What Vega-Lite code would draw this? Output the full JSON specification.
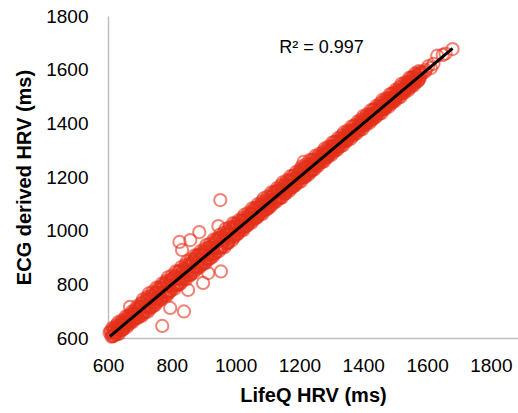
{
"$schema": "https://vega.github.io/schema/vega-lite/v6.json",
"width": 410, "height": 322,
"autosize": {"type": "none"},
"padding": {"left": 108, "top": 16, "right": 0, "bottom": 75},
"background": "white",
"config": {"view": {"stroke": null}},
"encoding": {
 "x": {"field": "x", "type": "quantitative",
  "scale": {"domain": [600, 1885], "nice": false, "zero": false},
  "axis": {"title": "LifeQ HRV (ms)", "values": [600, 800, 1000, 1200, 1400, 1600, 1800], "format": "d", "grid": false, "ticks": false, "tickSize": 0, "labelFlush": false, "labelOverlap": false, "domainColor": "#bfbfbf", "domainWidth": 1.5, "labelFont": "Liberation Sans", "labelFontSize": 19, "labelColor": "#000000", "labelPadding": 18, "titleFont": "Liberation Sans", "titleFontSize": 20, "titleFontWeight": "bold", "titleColor": "#000000", "titlePadding": 10}},
 "y": {"field": "y", "type": "quantitative",
  "scale": {"domain": [600, 1800], "nice": false, "zero": false},
  "axis": {"title": "ECG derived HRV (ms)", "values": [600, 800, 1000, 1200, 1400, 1600, 1800], "format": "d", "grid": false, "ticks": false, "tickSize": 0, "labelFlush": false, "labelOverlap": false, "domainColor": "#bfbfbf", "domainWidth": 1.5, "labelFont": "Liberation Sans", "labelFontSize": 19, "labelColor": "#000000", "labelPadding": 20, "titleFont": "Liberation Sans", "titleFontSize": 20, "titleFontWeight": "bold", "titleColor": "#000000", "titlePadding": 11}}
},
"layer": [
 {"data": {"values": [
{"x":612,"y":620},{"x":616,"y":610},{"x":620,"y":623},{"x":625,"y":621},{"x":630,"y":643},{"x":634,"y":626},{"x":639,"y":640},{"x":644,"y":654},{"x":648,"y":634},{"x":653,"y":659},
{"x":658,"y":655},{"x":662,"y":673},{"x":667,"y":660},{"x":672,"y":672},{"x":676,"y":690},{"x":681,"y":671},{"x":686,"y":690},{"x":690,"y":677},{"x":695,"y":702},{"x":699,"y":698},
{"x":704,"y":718},{"x":709,"y":690},{"x":714,"y":719},{"x":719,"y":712},{"x":724,"y":746},{"x":729,"y":715},{"x":734,"y":736},{"x":739,"y":756},{"x":744,"y":720},{"x":749,"y":759},
{"x":754,"y":749},{"x":759,"y":778},{"x":764,"y":752},{"x":769,"y":769},{"x":774,"y":798},{"x":779,"y":762},{"x":784,"y":791},{"x":789,"y":767},{"x":794,"y":806},{"x":799,"y":797},
{"x":804,"y":822},{"x":809,"y":798},{"x":814,"y":818},{"x":819,"y":799},{"x":824,"y":847},{"x":829,"y":821},{"x":834,"y":847},{"x":839,"y":823},{"x":844,"y":850},{"x":849,"y":848},
{"x":854,"y":871},{"x":859,"y":835},{"x":864,"y":874},{"x":869,"y":864},{"x":874,"y":893},{"x":879,"y":867},{"x":884,"y":884},{"x":889,"y":913},{"x":894,"y":877},{"x":899,"y":906},
{"x":904,"y":882},{"x":909,"y":921},{"x":914,"y":912},{"x":919,"y":937},{"x":924,"y":913},{"x":929,"y":933},{"x":934,"y":914},{"x":939,"y":962},{"x":944,"y":936},{"x":949,"y":962},
{"x":954,"y":938},{"x":959,"y":965},{"x":964,"y":963},{"x":969,"y":983},{"x":974,"y":955},{"x":979,"y":984},{"x":984,"y":977},{"x":989,"y":1011},{"x":994,"y":980},{"x":999,"y":1001},
{"x":1004,"y":1018},{"x":1009,"y":1000},{"x":1014,"y":1014},{"x":1019,"y":1037},{"x":1024,"y":1011},{"x":1029,"y":1034},{"x":1034,"y":1018},{"x":1039,"y":1048},{"x":1044,"y":1042},{"x":1049,"y":1063},
{"x":1054,"y":1046},{"x":1059,"y":1062},{"x":1064,"y":1049},{"x":1069,"y":1086},{"x":1074,"y":1068},{"x":1079,"y":1089},{"x":1084,"y":1072},{"x":1089,"y":1094},{"x":1094,"y":1093},{"x":1099,"y":1110},
{"x":1104,"y":1090},{"x":1109,"y":1113},{"x":1114,"y":1109},{"x":1119,"y":1135},{"x":1124,"y":1113},{"x":1129,"y":1131},{"x":1134,"y":1147},{"x":1139,"y":1121},{"x":1144,"y":1151},{"x":1149,"y":1145},
{"x":1154,"y":1168},{"x":1159,"y":1150},{"x":1164,"y":1164},{"x":1169,"y":1187},{"x":1174,"y":1161},{"x":1179,"y":1184},{"x":1184,"y":1168},{"x":1189,"y":1198},{"x":1194,"y":1192},{"x":1199,"y":1213},
{"x":1204,"y":1196},{"x":1209,"y":1212},{"x":1214,"y":1199},{"x":1219,"y":1236},{"x":1224,"y":1218},{"x":1229,"y":1239},{"x":1234,"y":1222},{"x":1239,"y":1244},{"x":1244,"y":1243},{"x":1249,"y":1260},
{"x":1254,"y":1264},{"x":1259,"y":1252},{"x":1264,"y":1265},{"x":1269,"y":1277},{"x":1274,"y":1263},{"x":1279,"y":1283},{"x":1284,"y":1282},{"x":1289,"y":1298},{"x":1294,"y":1288},{"x":1299,"y":1299},
{"x":1304,"y":1315},{"x":1309,"y":1301},{"x":1314,"y":1317},{"x":1319,"y":1309},{"x":1324,"y":1330},{"x":1329,"y":1328},{"x":1334,"y":1342},{"x":1339,"y":1334},{"x":1344,"y":1346},{"x":1349,"y":1340},
{"x":1354,"y":1364},{"x":1359,"y":1355},{"x":1364,"y":1370},{"x":1369,"y":1362},{"x":1374,"y":1377},{"x":1379,"y":1378},{"x":1384,"y":1391},{"x":1389,"y":1380},{"x":1394,"y":1396},{"x":1399,"y":1396},
{"x":1404,"y":1414},{"x":1409,"y":1402},{"x":1414,"y":1415},{"x":1419,"y":1427},{"x":1424,"y":1413},{"x":1429,"y":1433},{"x":1434,"y":1432},{"x":1439,"y":1448},{"x":1444,"y":1438},{"x":1449,"y":1449},
{"x":1454,"y":1465},{"x":1459,"y":1451},{"x":1464,"y":1467},{"x":1469,"y":1459},{"x":1474,"y":1480},{"x":1479,"y":1478},{"x":1484,"y":1492},{"x":1489,"y":1484},{"x":1494,"y":1496},{"x":1499,"y":1490},
{"x":1504,"y":1514},{"x":1509,"y":1505},{"x":1514,"y":1520},{"x":1519,"y":1512},{"x":1524,"y":1527},{"x":1529,"y":1528},{"x":1534,"y":1541},{"x":1539,"y":1530},{"x":1544,"y":1546},{"x":1549,"y":1546},
{"x":1554,"y":1564},{"x":1559,"y":1552},{"x":1564,"y":1565},{"x":1569,"y":1577},{"x":1574,"y":1563},{"x":1580,"y":1580},{"x":1586,"y":1590},{"x":1593,"y":1591},{"x":1596,"y":1599},{"x":1604,"y":1613},
{"x":1612,"y":1606},{"x":1620,"y":1622},{"x":1632,"y":1652},{"x":1649,"y":1655},{"x":1658,"y":1660},{"x":1680,"y":1677},
{"x":614,"y":608},{"x":619,"y":632},{"x":624,"y":614},{"x":629,"y":633},{"x":634,"y":633},{"x":639,"y":647},{"x":644,"y":631},{"x":649,"y":655},{"x":654,"y":655},{"x":659,"y":651},
{"x":664,"y":675},{"x":669,"y":665},{"x":674,"y":679},{"x":679,"y":668},{"x":684,"y":693},{"x":689,"y":687},{"x":694,"y":708},
{"x":701,"y":691},{"x":706,"y":728},{"x":711,"y":694},{"x":716,"y":723},{"x":721,"y":719},{"x":726,"y":740},{"x":731,"y":708},{"x":736,"y":747},{"x":741,"y":742},{"x":746,"y":733},
{"x":751,"y":770},{"x":756,"y":750},{"x":761,"y":769},{"x":766,"y":748},{"x":771,"y":787},{"x":776,"y":772},{"x":781,"y":805},{"x":786,"y":774},{"x":791,"y":796},{"x":796,"y":776},
{"x":801,"y":814},{"x":806,"y":799},{"x":811,"y":831},{"x":816,"y":800},{"x":821,"y":823},{"x":826,"y":802},{"x":831,"y":841},{"x":836,"y":831},{"x":841,"y":858},{"x":846,"y":846},
{"x":851,"y":845},{"x":856,"y":864},{"x":861,"y":843},{"x":866,"y":882},{"x":871,"y":867},{"x":876,"y":900},{"x":881,"y":869},{"x":886,"y":891},{"x":891,"y":871},{"x":896,"y":909},
{"x":901,"y":894},{"x":906,"y":926},{"x":911,"y":895},{"x":916,"y":918},{"x":921,"y":897},{"x":926,"y":936},{"x":931,"y":926},{"x":936,"y":953},{"x":941,"y":941},{"x":946,"y":936},
{"x":951,"y":973},{"x":956,"y":939},{"x":961,"y":968},{"x":966,"y":964},{"x":971,"y":985},{"x":976,"y":953},{"x":981,"y":992},{"x":986,"y":987},{"x":991,"y":978},{"x":996,"y":1015},
{"x":1001,"y":1012},{"x":1006,"y":989},{"x":1011,"y":1019},{"x":1016,"y":1017},{"x":1021,"y":1011},{"x":1026,"y":1040},{"x":1031,"y":1026},{"x":1036,"y":1042},{"x":1041,"y":1027},{"x":1046,"y":1058},
{"x":1051,"y":1048},{"x":1056,"y":1074},{"x":1061,"y":1052},{"x":1066,"y":1070},{"x":1071,"y":1056},{"x":1076,"y":1086},{"x":1081,"y":1076},{"x":1086,"y":1101},{"x":1091,"y":1079},{"x":1096,"y":1098},
{"x":1101,"y":1083},{"x":1106,"y":1113},{"x":1111,"y":1107},{"x":1116,"y":1129},{"x":1121,"y":1121},{"x":1126,"y":1119},{"x":1131,"y":1147},{"x":1136,"y":1123},{"x":1141,"y":1146},{"x":1146,"y":1144},
{"x":1151,"y":1162},{"x":1156,"y":1139},{"x":1161,"y":1169},{"x":1166,"y":1167},{"x":1171,"y":1161},{"x":1176,"y":1190},{"x":1181,"y":1176},{"x":1186,"y":1192},{"x":1191,"y":1177},{"x":1196,"y":1208},
{"x":1201,"y":1198},{"x":1206,"y":1224},{"x":1211,"y":1202},{"x":1216,"y":1220},{"x":1221,"y":1206},{"x":1226,"y":1236},{"x":1231,"y":1226},{"x":1236,"y":1251},{"x":1241,"y":1229},{"x":1246,"y":1248},
{"x":1251,"y":1245},{"x":1256,"y":1258},{"x":1261,"y":1252},{"x":1266,"y":1272},{"x":1271,"y":1268},{"x":1276,"y":1285},{"x":1281,"y":1274},{"x":1286,"y":1287},{"x":1291,"y":1280},{"x":1296,"y":1300},
{"x":1301,"y":1299},{"x":1306,"y":1314},{"x":1311,"y":1311},{"x":1316,"y":1312},{"x":1321,"y":1331},{"x":1326,"y":1318},{"x":1331,"y":1334},{"x":1336,"y":1335},{"x":1341,"y":1348},{"x":1346,"y":1336},
{"x":1351,"y":1356},{"x":1356,"y":1357},{"x":1361,"y":1355},{"x":1366,"y":1375},{"x":1371,"y":1368},{"x":1376,"y":1380},{"x":1381,"y":1373},{"x":1386,"y":1393},{"x":1391,"y":1389},{"x":1396,"y":1407},
{"x":1401,"y":1395},{"x":1406,"y":1408},{"x":1411,"y":1402},{"x":1416,"y":1422},{"x":1421,"y":1418},{"x":1426,"y":1435},{"x":1431,"y":1424},{"x":1436,"y":1437},{"x":1441,"y":1430},{"x":1446,"y":1450},
{"x":1451,"y":1449},{"x":1456,"y":1464},{"x":1461,"y":1461},{"x":1466,"y":1462},{"x":1471,"y":1481},{"x":1476,"y":1468},{"x":1481,"y":1484},{"x":1486,"y":1485},{"x":1491,"y":1498},{"x":1496,"y":1486},
{"x":1501,"y":1506},{"x":1506,"y":1507},{"x":1511,"y":1505},{"x":1516,"y":1525},{"x":1521,"y":1518},{"x":1526,"y":1530},{"x":1531,"y":1523},{"x":1536,"y":1543},{"x":1541,"y":1539},{"x":1546,"y":1557},
{"x":1551,"y":1545},{"x":1556,"y":1558},{"x":1561,"y":1552},{"x":1566,"y":1572},{"x":1571,"y":1568},{"x":1576,"y":1585},
{"x":608,"y":626},{"x":614,"y":638},{"x":620,"y":635},{"x":626,"y":647},{"x":632,"y":659},{"x":638,"y":655},{"x":644,"y":666},{"x":650,"y":664},{"x":656,"y":681},{"x":662,"y":682},
{"x":668,"y":686},{"x":674,"y":698},{"x":680,"y":695},{"x":686,"y":707},{"x":692,"y":719},{"x":698,"y":715},
{"x":704,"y":730},{"x":710,"y":744},{"x":716,"y":738},{"x":722,"y":752},{"x":728,"y":766},{"x":734,"y":758},{"x":740,"y":772},{"x":746,"y":766},{"x":752,"y":788},{"x":758,"y":786},
{"x":764,"y":790},{"x":770,"y":804},{"x":776,"y":798},{"x":782,"y":812},{"x":788,"y":826},{"x":794,"y":818},{"x":800,"y":832},{"x":806,"y":826},{"x":812,"y":848},{"x":818,"y":846},
{"x":824,"y":850},{"x":830,"y":864},{"x":836,"y":858},{"x":842,"y":872},{"x":848,"y":886},{"x":854,"y":878},{"x":860,"y":892},{"x":866,"y":886},{"x":872,"y":908},{"x":878,"y":906},
{"x":884,"y":910},{"x":890,"y":924},{"x":896,"y":918},{"x":902,"y":932},{"x":908,"y":946},{"x":914,"y":938},{"x":920,"y":952},{"x":926,"y":946},{"x":932,"y":968},{"x":938,"y":966},
{"x":944,"y":970},{"x":950,"y":984},{"x":956,"y":978},{"x":962,"y":992},{"x":968,"y":1006},{"x":974,"y":998},{"x":980,"y":1012},{"x":986,"y":1006},{"x":992,"y":1028},{"x":998,"y":1026},
{"x":1004,"y":1026},{"x":1010,"y":1039},{"x":1016,"y":1035},{"x":1022,"y":1048},{"x":1028,"y":1060},{"x":1034,"y":1054},{"x":1040,"y":1067},{"x":1046,"y":1063},{"x":1052,"y":1083},{"x":1058,"y":1082},
{"x":1064,"y":1086},{"x":1070,"y":1099},{"x":1076,"y":1095},{"x":1082,"y":1108},{"x":1088,"y":1120},{"x":1094,"y":1114},{"x":1100,"y":1127},{"x":1106,"y":1123},{"x":1112,"y":1143},{"x":1118,"y":1142},
{"x":1124,"y":1146},{"x":1130,"y":1159},{"x":1136,"y":1155},{"x":1142,"y":1168},{"x":1148,"y":1180},{"x":1154,"y":1174},{"x":1160,"y":1187},{"x":1166,"y":1183},{"x":1172,"y":1203},{"x":1178,"y":1202},
{"x":1184,"y":1206},{"x":1190,"y":1219},{"x":1196,"y":1215},{"x":1202,"y":1228},{"x":1208,"y":1240},{"x":1214,"y":1234},{"x":1220,"y":1247},{"x":1226,"y":1243},{"x":1232,"y":1263},{"x":1238,"y":1262},
{"x":1244,"y":1266},{"x":1250,"y":1279},
{"x":1256,"y":1274},{"x":1262,"y":1286},{"x":1268,"y":1283},{"x":1274,"y":1295},{"x":1280,"y":1307},{"x":1286,"y":1303},{"x":1292,"y":1314},{"x":1298,"y":1312},{"x":1304,"y":1329},{"x":1310,"y":1330},
{"x":1316,"y":1334},{"x":1322,"y":1346},{"x":1328,"y":1343},{"x":1334,"y":1355},{"x":1340,"y":1367},{"x":1346,"y":1363},{"x":1352,"y":1374},{"x":1358,"y":1372},{"x":1364,"y":1389},{"x":1370,"y":1390},
{"x":1376,"y":1394},{"x":1382,"y":1406},{"x":1388,"y":1403},{"x":1394,"y":1415},{"x":1400,"y":1427},{"x":1406,"y":1423},{"x":1412,"y":1434},{"x":1418,"y":1432},{"x":1424,"y":1449},{"x":1430,"y":1450},
{"x":1436,"y":1454},{"x":1442,"y":1466},{"x":1448,"y":1463},{"x":1454,"y":1475},{"x":1460,"y":1487},{"x":1466,"y":1483},{"x":1472,"y":1494},{"x":1478,"y":1492},{"x":1484,"y":1509},{"x":1490,"y":1510},
{"x":1496,"y":1514},{"x":1502,"y":1526},{"x":1508,"y":1523},{"x":1514,"y":1535},{"x":1520,"y":1547},{"x":1526,"y":1543},{"x":1532,"y":1554},{"x":1538,"y":1552},{"x":1544,"y":1569},{"x":1550,"y":1570},
{"x":1556,"y":1574},{"x":1562,"y":1586},{"x":1568,"y":1583},{"x":1574,"y":1595},{"x":1580,"y":1592},
{"x":611,"y":605},{"x":617,"y":607},{"x":623,"y":613},{"x":629,"y":614},{"x":635,"y":616},{"x":641,"y":630},{"x":647,"y":632},{"x":653,"y":645},{"x":659,"y":641},{"x":665,"y":651},
{"x":671,"y":658},{"x":677,"y":660},{"x":683,"y":673},{"x":689,"y":674},{"x":695,"y":676},
{"x":701,"y":683},{"x":707,"y":683},{"x":713,"y":699},{"x":719,"y":698},{"x":725,"y":698},{"x":731,"y":715},{"x":737,"y":715},{"x":743,"y":731},{"x":749,"y":724},{"x":755,"y":735},
{"x":761,"y":743},{"x":767,"y":743},{"x":773,"y":759},{"x":779,"y":758},{"x":785,"y":758},{"x":791,"y":775},{"x":797,"y":775},{"x":803,"y":791},{"x":809,"y":784},{"x":815,"y":795},
{"x":821,"y":803},{"x":827,"y":803},{"x":833,"y":819},{"x":839,"y":818},{"x":845,"y":818},{"x":851,"y":835},{"x":857,"y":835},{"x":863,"y":851},{"x":869,"y":844},{"x":875,"y":855},
{"x":881,"y":863},{"x":887,"y":863},{"x":893,"y":879},{"x":899,"y":878},{"x":905,"y":878},{"x":911,"y":895},{"x":917,"y":895},{"x":923,"y":911},{"x":929,"y":904},{"x":935,"y":915},
{"x":941,"y":923},{"x":947,"y":923},{"x":953,"y":939},{"x":959,"y":938},{"x":965,"y":938},{"x":971,"y":955},{"x":977,"y":955},{"x":983,"y":971},{"x":989,"y":964},{"x":995,"y":975},
{"x":1001,"y":987},{"x":1007,"y":988},{"x":1013,"y":1002},{"x":1019,"y":1002},{"x":1025,"y":1003},{"x":1031,"y":1018},{"x":1037,"y":1019},{"x":1043,"y":1033},{"x":1049,"y":1029},{"x":1055,"y":1039},
{"x":1061,"y":1047},{"x":1067,"y":1048},{"x":1073,"y":1062},{"x":1079,"y":1062},{"x":1085,"y":1063},{"x":1091,"y":1078},{"x":1097,"y":1079},{"x":1103,"y":1093},{"x":1109,"y":1089},{"x":1115,"y":1099},
{"x":1121,"y":1107},{"x":1127,"y":1108},{"x":1133,"y":1122},{"x":1139,"y":1122},{"x":1145,"y":1123},{"x":1151,"y":1138},{"x":1157,"y":1139},{"x":1163,"y":1153},{"x":1169,"y":1149},{"x":1175,"y":1159},
{"x":1181,"y":1167},{"x":1187,"y":1168},{"x":1193,"y":1182},{"x":1199,"y":1182},{"x":1205,"y":1183},{"x":1211,"y":1198},{"x":1217,"y":1199},{"x":1223,"y":1213},{"x":1229,"y":1209},{"x":1235,"y":1219},
{"x":1241,"y":1227},{"x":1247,"y":1228},
{"x":1253,"y":1240},{"x":1259,"y":1242},{"x":1265,"y":1255},{"x":1271,"y":1256},{"x":1277,"y":1258},{"x":1283,"y":1272},{"x":1289,"y":1274},{"x":1295,"y":1287},{"x":1301,"y":1283},{"x":1307,"y":1293},
{"x":1313,"y":1300},{"x":1319,"y":1302},{"x":1325,"y":1315},{"x":1331,"y":1316},{"x":1337,"y":1318},{"x":1343,"y":1332},{"x":1349,"y":1334},{"x":1355,"y":1347},{"x":1361,"y":1343},{"x":1367,"y":1353},
{"x":1373,"y":1360},{"x":1379,"y":1362},{"x":1385,"y":1375},{"x":1391,"y":1376},{"x":1397,"y":1378},{"x":1403,"y":1392},{"x":1409,"y":1394},{"x":1415,"y":1407},{"x":1421,"y":1403},{"x":1427,"y":1413},
{"x":1433,"y":1420},{"x":1439,"y":1422},{"x":1445,"y":1435},{"x":1451,"y":1436},{"x":1457,"y":1438},{"x":1463,"y":1452},{"x":1469,"y":1454},{"x":1475,"y":1467},{"x":1481,"y":1463},{"x":1487,"y":1473},
{"x":1493,"y":1480},{"x":1499,"y":1482},{"x":1505,"y":1495},{"x":1511,"y":1496},{"x":1517,"y":1498},{"x":1523,"y":1512},{"x":1529,"y":1514},{"x":1535,"y":1527},{"x":1541,"y":1523},{"x":1547,"y":1533},
{"x":1553,"y":1540},{"x":1559,"y":1542},{"x":1565,"y":1555},{"x":1571,"y":1556},{"x":1577,"y":1567},
{"x":952,"y":1114},{"x":946,"y":1017},{"x":886,"y":995},{"x":824,"y":958},{"x":858,"y":965},{"x":832,"y":928},{"x":954,"y":848},{"x":914,"y":842},{"x":898,"y":805},{"x":851,"y":779},
{"x":838,"y":699},{"x":770,"y":645},{"x":1213,"y":1256},{"x":669,"y":716},{"x":795,"y":712},{"x":605,"y":620}
 ]},
  "mark": {"type": "point", "shape": "circle", "filled": false, "stroke": "#e5301a", "strokeWidth": 2, "strokeOpacity": 0.85, "size": 150}},
 {"data": {"values": [{"x": 606, "y": 606}, {"x": 1680, "y": 1679}]},
  "mark": {"type": "line", "color": "#000000", "strokeWidth": 3}},
 {"data": {"values": [{"x": 1269, "y": 1681, "label": "R² = 0.997"}]},
  "mark": {"type": "text", "font": "Liberation Sans", "fontSize": 18, "color": "#000000", "align": "center", "baseline": "middle"},
  "encoding": {"text": {"field": "label", "type": "nominal"}}}
]
}
